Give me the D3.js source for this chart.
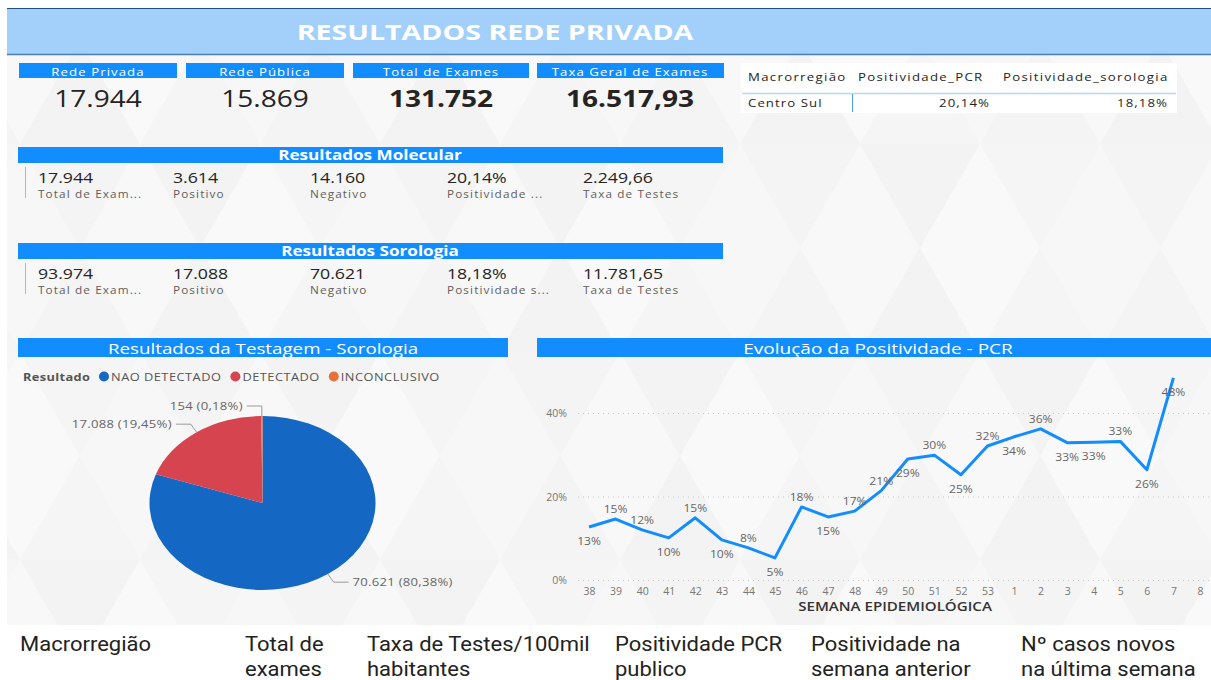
<!DOCTYPE html>
<html>
<head>
<meta charset="utf-8">
<script src="https://cdn.jsdelivr.net/npm/d3@7"></script>
<style>
  body { margin: 0; background: #ffffff; }
  svg { display: block; font-family: 'Open Sans', 'Noto Sans', sans-serif; }
</style>
</head>
<body>
<svg id="chart" width="1211" height="680"></svg>
<script>
// ---------------- DATA ----------------
const pageTitle = "RESULTADOS REDE PRIVADA";

const kpiLabels = ["Rede Privada", "Rede Pública", "Total de Exames", "Taxa Geral de Exames"];
const kpiValues = [17944, 15869, 131752, 16517.93];
const kpiKinds  = ["int", "int", "int", "dec"];

const tableHeaders   = ["Macrorregião", "Positividade_PCR", "Positividade_sorologia"];
const tableRegions   = ["Centro Sul"];
const tablePCR       = [0.2014];
const tableSorologia = [0.1818];

const molecularTitle  = "Resultados Molecular";
const molecularLabels = ["Total de Exam...", "Positivo", "Negativo", "Positividade ...", "Taxa de Testes"];
const molecularValues = [17944, 3614, 14160, 0.2014, 2249.66];

const sorologiaTitle  = "Resultados Sorologia";
const sorologiaLabels = ["Total de Exam...", "Positivo", "Negativo", "Positividade s...", "Taxa de Testes"];
const sorologiaValues = [93974, 17088, 70621, 0.1818, 11781.65];
const resultKinds     = ["int", "int", "int", "pct", "dec"];

const pieTitle      = "Resultados da Testagem - Sorologia";
const pieLegendName = "Resultado";
const pieCategories = ["NAO DETECTADO", "DETECTADO", "INCONCLUSIVO"];
const pieValues     = [70621, 17088, 154];

const lineTitle  = "Evolução da Positividade - PCR";
const xAxisTitle = "SEMANA EPIDEMIOLÓGICA";
const weeks = ["38","39","40","41","42","43","44","45","46","47","48","49","50","51","52","53","1","2","3","4","5","6","7","8"];
const positivity = [12.7, 14.6, 12.0, 10.1, 14.9, 9.6, 7.7, 5.3, 17.5, 15.1, 16.5, 21.4, 29.0, 29.9, 25.2, 32.1, 34.3, 36.2, 32.9, 33.0, 33.2, 26.4, 48.4, null];
const yTicks = [0, 0.2, 0.4];

const footerLabels = [
  ["Macrorregião"],
  ["Total de", "exames"],
  ["Taxa de Testes/100mil", "habitantes"],
  ["Positividade PCR", "publico"],
  ["Positividade na", "semana anterior"],
  ["Nº casos novos", "na última semana"]
];

// ---------------- SETUP ----------------
const loc = d3.formatLocale({ decimal: ",", thousands: ".", grouping: [3], currency: ["R$", ""] });
const fmt = {
  int: loc.format(",d"),
  dec: loc.format(",.2f"),
  pct: loc.format(".2%")
};
const BLUE = "#118DFF";
const SX = 1.2; // horizontal stretch of the original report
const svg = d3.select("#chart");

function txt(parent, x, y, s, o = {}) {
  const t = parent.append("text")
    .attr("transform", `translate(${x},${y}) scale(${o.sx == null ? SX : o.sx},1)`)
    .attr("text-anchor", o.anchor || "start")
    .style("font-size", (o.size || 11) + "px")
    .style("font-weight", o.weight || 400)
    .style("fill", o.fill || "#252423")
    .style("letter-spacing", (o.ls || 0) + "px")
    .text(s);
  if (o.family) t.style("font-family", o.family);
  return t;
}

// ---------------- BACKGROUND (faint geometric texture) ----------------
const bg = svg.append("g");
bg.append("rect").attr("x", 7).attr("y", 55).attr("width", 1204).attr("height", 570).attr("fill", "#f6f6f6");
const tri = 120, triH = tri * 0.866;
const shades = ["#f4f4f4", "#f8f8f8", "#f3f3f3", "#f9f9f9", "#f5f5f5", "#f7f7f7"];
bg.append("clipPath").attr("id", "bgclip").append("rect").attr("x", 7).attr("y", 55).attr("width", 1204).attr("height", 570);
const tg0 = bg.append("g").attr("clip-path", "url(#bgclip)");
d3.range(0, 8).forEach(r => {
  d3.range(0, 23).forEach(c => {
    const x0 = c * tri / 2 + (r % 2 ? tri / 2 : 0) - 100, y0 = 40 + r * triH;
    const up = (c % 2 === 0);
    const p = up
      ? [[x0, y0 + triH], [x0 + tri / 2, y0], [x0 + tri, y0 + triH]]
      : [[x0, y0], [x0 + tri, y0], [x0 + tri / 2, y0 + triH]];
    tg0.append("path").attr("d", d3.line()(p) + "Z")
      .attr("fill", shades[(r * 5 + c * 7) % shades.length]);
  });
});

// header band
svg.append("rect").attr("x", 7).attr("y", 8).attr("width", 1204).attr("height", 47).attr("fill", "#a3d0fb");
svg.append("line").attr("x1", 7).attr("x2", 1211).attr("y1", 8.5).attr("y2", 8.5).attr("stroke", "#26507a").attr("stroke-width", 1);
svg.append("line").attr("x1", 7).attr("x2", 1211).attr("y1", 54.5).attr("y2", 54.5).attr("stroke", "#4a7db0").attr("stroke-width", 1.5);
txt(svg, 495, 40, pageTitle, { size: 22, weight: 700, fill: "#ffffff", anchor: "middle", sx: 1.3 });

// ---------------- KPI CARDS ----------------
const kpiBoxes = [[19, 158], [186, 158], [353, 176], [537, 187]];
const kpiCenters = [98, 265, 441, 630];
kpiLabels.forEach((lab, i) => {
  svg.append("rect").attr("x", kpiBoxes[i][0]).attr("y", 63).attr("width", kpiBoxes[i][1]).attr("height", 15).attr("fill", BLUE);
  txt(svg, kpiCenters[i], 75.5, lab, { size: 11, fill: "#ffffff", anchor: "middle", ls: 0.9 });
  txt(svg, kpiCenters[i], 107, fmt[kpiKinds[i]](kpiValues[i]),
      { size: 23, weight: i >= 2 ? 700 : 400, fill: "#252423", anchor: "middle", sx: 1.22 });
});

// ---------------- TABLE ----------------
const tg = svg.append("g");
tg.append("rect").attr("x", 741).attr("y", 63).attr("width", 436).attr("height", 50).attr("fill", "#ffffff");
const colX = [748, 858, 1003];
tableHeaders.forEach((h, i) => txt(tg, colX[i], 81, h, { size: 11, fill: "#252423", ls: 1.1 }));
tg.append("line").attr("x1", 742).attr("x2", 1176).attr("y1", 93.5).attr("y2", 93.5).attr("stroke", "#b9d7f3").attr("stroke-width", 1.5);
tg.append("line").attr("x1", 852.5).attr("x2", 852.5).attr("y1", 94).attr("y2", 112).attr("stroke", "#4d9fee").attr("stroke-width", 1);
tableRegions.forEach((r, j) => {
  const yy = 107 + j * 18;
  txt(tg, 748, yy, r, { size: 11, fill: "#252423", ls: 0.9 });
  txt(tg, 990, yy, fmt.pct(tablePCR[j]), { size: 11, fill: "#252423", anchor: "end", ls: 0.9 });
  txt(tg, 1168, yy, fmt.pct(tableSorologia[j]), { size: 11, fill: "#252423", anchor: "end", ls: 0.9 });
});

// ---------------- RESULT SECTIONS ----------------
const colStarts = [38, 173, 310, 447, 583];
function resultSection(top, title, labels, values) {
  const g = svg.append("g");
  g.append("rect").attr("x", 18).attr("y", top).attr("width", 705).attr("height", 16).attr("fill", BLUE);
  txt(g, 370, top + 13, title, { size: 14.5, weight: 700, fill: "#ffffff", anchor: "middle", sx: 1.18 });
  g.append("line").attr("x1", 25.5).attr("x2", 25.5).attr("y1", top + 20).attr("y2", top + 51).attr("stroke", "#b5b5b5");
  values.forEach((v, i) => {
    txt(g, colStarts[i], top + 36, fmt[resultKinds[i]](v), { size: 15, fill: "#252423", sx: 1.18 });
    txt(g, colStarts[i], top + 51, labels[i], { size: 10.5, fill: "#605e5c", ls: 1.0, sx: 1.12 });
  });
}
resultSection(147, molecularTitle, molecularLabels, molecularValues);
resultSection(243, sorologiaTitle, sorologiaLabels, sorologiaValues);

// ---------------- PIE ----------------
const pieColors = d3.scaleOrdinal().domain(pieCategories).range(["#1467c2", "#d6444f", "#e8703a"]);
svg.append("rect").attr("x", 18).attr("y", 338).attr("width", 490).attr("height", 19).attr("fill", BLUE);
txt(svg, 263, 353.5, pieTitle, { size: 15, fill: "#ffffff", anchor: "middle", sx: 1.25 });

// legend
const lg = svg.append("g");
txt(lg, 23, 381, pieLegendName, { size: 10.5, weight: 700, fill: "#555555", ls: 0.3, sx: 1.22 });
let lx = 104;
pieCategories.forEach(c => {
  lg.append("circle").attr("cx", lx).attr("cy", 376.5).attr("r", 5).attr("fill", pieColors(c));
  const t = txt(lg, lx + 7, 381, c, { size: 10.5, fill: "#555555", ls: 0.4, sx: 1.22 });
  const w = t.node().getComputedTextLength() * 1.22;
  lx += 7 + w + 14;
});

const pcx = 262.5, pcy = 503, ry = 87, rx = 113;
const total = d3.sum(pieValues);
const pieData = d3.pie().sort(null).value(d => d.v)(pieCategories.map((c, i) => ({ c, v: pieValues[i] })));
const arc = d3.arc().innerRadius(0).outerRadius(ry);
svg.append("g").attr("transform", `translate(${pcx},${pcy}) scale(${rx / ry},1)`)
  .selectAll("path").data(pieData).join("path")
  .attr("d", arc).attr("fill", d => pieColors(d.data.c));

const pctFmt = loc.format(".2%");
const plg = svg.append("g");
pieData.forEach(d => {
  const a = (d.startAngle + d.endAngle) / 2;
  const s = Math.sin(a), c = Math.cos(a);
  const ex = pcx + rx * s, ey = pcy - ry * c;
  const bx = ex + 10 * s, by = ey - 10 * c;
  const dir = s >= 0 ? 1 : -1;
  const hx = bx + dir * 15;
  plg.append("polyline").attr("points", `${ex},${ey} ${bx},${by} ${hx},${by}`)
    .attr("fill", "none").attr("stroke", "#9a9a9a").attr("stroke-width", 1);
  txt(plg, hx + dir * 4, by + 4, `${fmt.int(d.data.v)} (${pctFmt(d.data.v / total)})`,
      { size: 10.5, fill: "#666666", anchor: dir > 0 ? "start" : "end", sx: 1.25, ls: 0.2 });
});

// ---------------- LINE CHART ----------------
svg.append("rect").attr("x", 537).attr("y", 338).attr("width", 674).attr("height", 19).attr("fill", BLUE);
txt(svg, 878, 353.5, lineTitle, { size: 15, fill: "#ffffff", anchor: "middle", sx: 1.27 });

const x = d3.scalePoint().domain(weeks).range([589, 1200]);
const y = d3.scaleLinear().domain([0, 0.4]).range([580, 413]);

const yAxisG = svg.append("g").attr("transform", "translate(578,0)")
  .call(d3.axisLeft(y).tickValues(yTicks).tickFormat(d3.format(".0%")).tickSize(-633).tickPadding(11));
yAxisG.select(".domain").remove();
yAxisG.selectAll(".tick line").attr("stroke", "#c8c8c8").attr("stroke-dasharray", "1,4");
yAxisG.selectAll(".tick text").attr("fill", "#777777").style("font-size", "10.5px")
  .style("font-family", "'Open Sans', sans-serif").attr("dy", "0.35em");

const xAxisG = svg.append("g").attr("transform", "translate(0,584)")
  .call(d3.axisBottom(x).tickSize(0).tickPadding(4));
xAxisG.select(".domain").remove();
xAxisG.selectAll(".tick text").attr("fill", "#777777").style("font-size", "10.5px")
  .style("font-family", "'Open Sans', sans-serif");

txt(svg, 895, 611, xAxisTitle, { size: 12, weight: 600, fill: "#333333", anchor: "middle", sx: 1.26 });

const pts = weeks.map((w, i) => ({ w, v: positivity[i] })).filter(d => d.v != null);
pts.forEach(d => { d.x = x(d.w); d.y = y(d.v / 100); });

svg.append("path").datum(pts)
  .attr("d", d3.line().x(d => d.x).y(d => d.y))
  .attr("fill", "none").attr("stroke", BLUE).attr("stroke-width", 3).attr("stroke-linejoin", "round");

// data label placement (peaks above, valleys below, resolve overlaps)
pts.forEach((d, k) => {
  const p = pts[k - 1], n = pts[k + 1];
  if (!p) d.shape = n.v > d.v ? "valley" : "peak";
  else if (!n) d.shape = p.v < d.v ? "peak" : "valley";
  else if (d.v >= p.v && d.v >= n.v) d.shape = "peak";
  else if (d.v <= p.v && d.v <= n.v) d.shape = "valley";
  else d.shape = "mono";
});
const LW = 30, LH = 11, OFF = 6;
const box = (d, side) => side === "above"
  ? { x0: d.x - LW / 2, x1: d.x + LW / 2, y0: d.y - OFF - LH, y1: d.y - OFF }
  : { x0: d.x - LW / 2, x1: d.x + LW / 2, y0: d.y + OFF, y1: d.y + OFF + LH };
const overlaps = (a, b) => Math.min(a.x1, b.x1) - Math.max(a.x0, b.x0) > 1 && Math.min(a.y1, b.y1) - Math.max(a.y0, b.y0) > 1;
const plotTop = y(0.5);
const placed = [];
pts.filter(d => d.shape !== "mono").forEach(d => {
  let s = d.shape === "peak" ? "above" : "below";
  if (s === "above" && box(d, s).y0 < plotTop) s = "below";
  d.side = s; placed.push(box(d, s));
});
pts.filter(d => d.shape === "mono").forEach(d => {
  const k = pts.indexOf(d);
  const drop = pts[k - 1].v - d.v;
  let s = "above";
  if (drop > 4 || placed.some(b => overlaps(b, box(d, "above")))) s = "below";
  d.side = s; placed.push(box(d, s));
});
const dl = svg.append("g");
pts.forEach(d => {
  txt(dl, d.x, d.side === "above" ? d.y - 6 : d.y + 18, Math.round(d.v) + "%",
      { size: 10.5, fill: "#666666", anchor: "middle", sx: 1.15 });
});

// ---------------- FOOTER ----------------
const footerX = [20, 245, 367, 615, 811, 1021];
footerLabels.forEach((lines, i) => {
  lines.forEach((l, j) => {
    txt(svg, footerX[i], 651 + j * 25, l, { size: 20, fill: "#222222", sx: 1.1, family: "Roboto, sans-serif" });
  });
});
</script>
</body>
</html>
